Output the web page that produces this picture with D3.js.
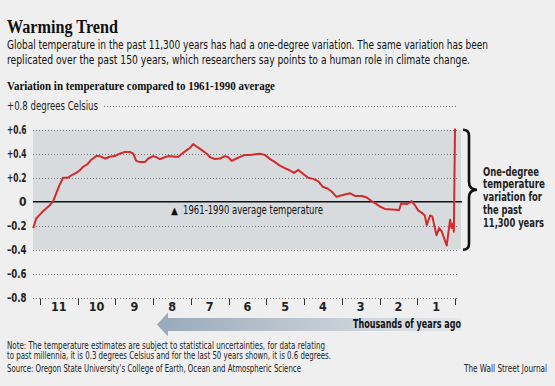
<!DOCTYPE html>
<html>
<head>
<meta charset="utf-8">
<script src="https://cdn.jsdelivr.net/npm/d3@7"></script>
<style>
  body { margin: 0; background: #efefef; }
  svg { display: block; }
</style>
</head>
<body>
<svg id="chart"></svg>
<script>
// thousands of years ago
const yearsAgo = [11.18, 11.10, 11.01, 10.92, 10.83, 10.74, 10.65, 10.57, 10.48, 10.39,
  10.26, 10.17, 10.04, 9.95, 9.86, 9.75, 9.64, 9.51, 9.42, 9.27,
  9.15, 9.02, 8.89, 8.75, 8.62, 8.53, 8.45, 8.35, 8.22, 8.13,
  8.00, 7.91, 7.82, 7.69, 7.60, 7.42, 7.33, 7.24, 7.11, 7.02,
  6.94, 6.85, 6.71, 6.58, 6.49, 6.36, 6.23, 6.10, 6.01, 5.92,
  5.79, 5.65, 5.57, 5.43, 5.30, 5.17, 5.04, 4.90, 4.77, 4.64,
  4.51, 4.37, 4.27, 4.15, 4.02, 3.89, 3.76, 3.62, 3.51, 3.38,
  3.27, 3.14, 3.05, 2.92, 2.78, 2.65, 2.47, 2.34, 2.21, 2.08,
  1.99, 1.86, 1.68, 1.48, 1.43, 1.28, 1.19, 1.15, 1.06, 0.97,
  0.87, 0.80, 0.75, 0.66, 0.60, 0.55, 0.49, 0.42, 0.35, 0.27,
  0.22, 0.18, 0.13, 0.09, 0.05, 0.03, 0.0];

// degrees Celsius vs. 1961-1990 average
const anomaly = [-0.22, -0.14, -0.11, -0.08, -0.055, -0.03, 0.005, 0.07, 0.14, 0.20,
  0.20, 0.22, 0.24, 0.26, 0.29, 0.31, 0.35, 0.38, 0.38, 0.36,
  0.375, 0.38, 0.40, 0.415, 0.415, 0.40, 0.34, 0.33, 0.33, 0.36,
  0.38, 0.37, 0.355, 0.37, 0.38, 0.375, 0.375, 0.40, 0.43, 0.45,
  0.48, 0.46, 0.43, 0.40, 0.37, 0.355, 0.36, 0.38, 0.37, 0.34,
  0.36, 0.38, 0.39, 0.39, 0.395, 0.40, 0.39, 0.355, 0.33, 0.30,
  0.28, 0.26, 0.24, 0.265, 0.23, 0.20, 0.19, 0.17, 0.125, 0.11,
  0.085, 0.04, 0.05, 0.06, 0.07, 0.048, 0.048, 0.035, 0.005, -0.02,
  -0.04, -0.06, -0.065, -0.07, -0.015, -0.02, -0.005, 0.005, -0.03, -0.075,
  -0.095, -0.115, -0.195, -0.115, -0.125, -0.195, -0.28, -0.22, -0.25, -0.32,
  -0.365, -0.27, -0.15, -0.22, -0.18, -0.25, 0.61];

const yTicks = [0.6, 0.4, 0.2, 0, -0.2, -0.4, -0.6, -0.8];
const yTickLabels = ["+0.6", "+0.4", "+0.2", "0", "\u20130.2", "\u20130.4", "\u20130.6", "\u20130.8"];
const xTicks = [11, 10, 9, 8, 7, 6, 5, 4, 3, 2, 1, 0];
const xLabelPos = [10.5, 9.5, 8.5, 7.5, 6.5, 5.5, 4.5, 3.5, 2.5, 1.5, 0.5];
const xLabels = ["11", "10", "9", "8", "7", "6", "5", "4", "3", "2", "1"];
const braceLines = ["One-degree", "temperature", "variation for", "the past", "11,300 years"];
const braceWidths = [56, 62, 59, 39, 61];

const sans = "'Liberation Sans Narrow', 'DejaVu Sans Condensed', 'Roboto', sans-serif";
const serif = "'Liberation Serif', 'DejaVu Serif', serif";

function getConfig() {
    let width = 555, height = 386;
    let plot = { left: 33, right: 461 };   // shaded area
    let container = d3.select("#chart").attr("width", width).attr("height", height);
    return { width, height, plot, container };
}

function getScales() {
    // 11 thousand years ago at the first tick, today at the last one
    let xScale = d3.scaleLinear().domain([11, 0]).range([40, 455]);
    let yScale = d3.scaleLinear().domain([-0.8, 0.8]).range([297.7, 105.7]);
    return { xScale, yScale };
}

// small helper for text, optional textLength to squeeze condensed fonts
function addText(g, x, y, str, opts) {
    let t = g.append("text")
        .attr("x", x).attr("y", y)
        .attr("font-family", opts.family || sans)
        .attr("font-size", opts.size || 11)
        .attr("font-weight", opts.weight || "normal")
        .attr("fill", opts.fill || "#111")
        .attr("text-anchor", opts.anchor || "start")
        .text(str);
    if (opts.len) t.attr("textLength", opts.len).attr("lengthAdjust", "spacingAndGlyphs");
    return t;
}

function drawHeader(config) {
    let g = config.container.append("g");
    addText(g, 7, 32.5, "Warming Trend", { family: serif, size: 18, weight: "bold", len: 111 });
    addText(g, 7, 48.5, "Global temperature in the past 11,300 years has had a one-degree variation. The same variation has been", { size: 12, len: 481 });
    addText(g, 7, 64, "replicated over the past 150 years, which researchers say points to a human role in climate change.", { size: 12, len: 463 });
    addText(g, 7, 90, "Variation in temperature compared to 1961-1990 average", { family: serif, size: 12.5, weight: "bold", len: 268 });
}

function drawGrid(scales, config) {
    let { xScale, yScale } = scales;
    let { container, plot } = config;

    container.append("rect")
        .attr("x", plot.left).attr("y", yScale(0.6))
        .attr("width", plot.right - plot.left)
        .attr("height", yScale(-0.4) - yScale(0.6))
        .attr("fill", "#d8dbde");

    // dotted gridlines
    container.append("g").selectAll("line")
        .data(yTicks.filter(d => d !== 0))
        .enter().append("line")
        .attr("x1", plot.left).attr("x2", 458)
        .attr("y1", d => Math.round(yScale(d)) + 0.5)
        .attr("y2", d => Math.round(yScale(d)) + 0.5)
        .attr("stroke", "#777").attr("stroke-width", 1)
        .attr("stroke-dasharray", "1,2");

    container.append("line")
        .attr("x1", 104).attr("x2", 458)
        .attr("y1", Math.round(yScale(0.8)) + 0.5).attr("y2", Math.round(yScale(0.8)) + 0.5)
        .attr("stroke", "#777").attr("stroke-dasharray", "1,2");

    let labels = container.append("g");
    yTicks.forEach((d, i) => {
        let s = yTickLabels[i];
        addText(labels, 26.5, yScale(d) + 4, s, { size: 12, weight: "bold", anchor: "end", fill: "#222", len: s.length > 1 ? 19.5 : null });
    });
    addText(labels, 7, yScale(0.8) + 4, "+0.8 degrees Celsius", { size: 12, len: 91, fill: "#222" });

    // x axis: short tick marks below the -0.8 line, labels between them
    container.append("g").selectAll("line")
        .data(xTicks)
        .enter().append("line")
        .attr("x1", d => Math.round(xScale(d)) + 0.5)
        .attr("x2", d => Math.round(xScale(d)) + 0.5)
        .attr("y1", 298.5).attr("y2", 305)
        .attr("stroke", "#333");

    let xl = container.append("g");
    xLabelPos.forEach((d, i) => {
        addText(xl, xScale(d), 311, xLabels[i], { size: 12.5, weight: "bold", anchor: "middle", fill: "#222" });
    });
}

function drawLine(scales, config) {
    let { xScale, yScale } = scales;
    let { container, plot } = config;
    let points = yearsAgo.map((t, i) => ({ t: t, v: anomaly[i] }));

    container.append("line")
        .attr("x1", plot.left).attr("x2", 462)
        .attr("y1", yScale(0)).attr("y2", yScale(0))
        .attr("stroke", "#111").attr("stroke-width", 1.6);

    let line = d3.line()
        .x(d => xScale(d.t))
        .y(d => yScale(d.v));

    container.append("path")
        .datum(points)
        .attr("d", line)
        .attr("fill", "none")
        .attr("stroke", "#d12b2b")
        .attr("stroke-width", 2)
        .attr("stroke-linejoin", "round");

    // baseline marker text
    let g = container.append("g");
    addText(g, 171, yScale(0) + 12, "\u25B2", { size: 10, fill: "#111" });
    addText(g, 183, yScale(0) + 12.5, "1961-1990 average temperature", { size: 12.5, len: 140, fill: "#111" });
}

function drawBrace(scales, config) {
    let { yScale } = scales;
    let top = yScale(0.6), bottom = yScale(-0.4), mid = (top + bottom) / 2;
    let x0 = 463, x1 = 469, tip = 477;
    let path = d3.path();
    path.moveTo(x0, top);
    path.quadraticCurveTo(x1, top, x1, top + 6);
    path.lineTo(x1, mid - 8);
    path.quadraticCurveTo(x1, mid, tip, mid);
    path.quadraticCurveTo(x1, mid, x1, mid + 8);
    path.lineTo(x1, bottom - 6);
    path.quadraticCurveTo(x1, bottom, x0, bottom);
    config.container.append("path")
        .attr("d", path.toString())
        .attr("fill", "none").attr("stroke", "#111").attr("stroke-width", 2.6);

    let g = config.container.append("g");
    braceLines.forEach((s, i) => {
        addText(g, 483, 175.5 + i * 12.9, s, { size: 12, weight: "bold", fill: "#222", len: braceWidths[i] });
    });
}

function drawArrow(config) {
    let defs = config.container.append("defs");
    let grad = defs.append("linearGradient").attr("id", "arrowGrad")
        .attr("x1", "0%").attr("x2", "100%");
    grad.append("stop").attr("offset", "0%").attr("stop-color", "#98a9ba");
    grad.append("stop").attr("offset", "55%").attr("stop-color", "#c3ccd4");
    grad.append("stop").attr("offset", "100%").attr("stop-color", "#e6e8ea");

    let tipX = 157, cy = 324.5, right = 461;
    let pts = [[tipX, cy], [168, 312.5], [168, 318], [right, 318], [right, 331], [168, 331], [168, 336.5]];
    config.container.append("polygon")
        .attr("points", pts.map(p => p.join(",")).join(" "))
        .attr("fill", "url(#arrowGrad)");

    addText(config.container, 461, 328, "Thousands of years ago", { size: 13, weight: "bold", anchor: "end", len: 108, fill: "#111" });
}

function drawFooter(config) {
    let g = config.container.append("g");
    addText(g, 7, 349, "Note: The temperature estimates are subject to statistical uncertainties, for data relating", { size: 10, len: 318, fill: "#222" });
    addText(g, 7, 358.5, "to past millennia, it is 0.3 degrees Celsius and for the last 50 years shown, it is 0.6 degrees.", { size: 10, len: 324, fill: "#222" });
    addText(g, 7, 372, "Source: Oregon State University\u2019s College of Earth, Ocean and Atmospheric Science", { size: 10.5, len: 294, fill: "#222" });
    addText(g, 547, 372, "The Wall Street Journal", { size: 10.5, anchor: "end", len: 83, fill: "#222" });
}

function drawChart() {
    let config = getConfig();
    let scales = getScales();
    config.container.append("rect").attr("width", config.width).attr("height", config.height).attr("fill", "#efefef");
    drawHeader(config);
    drawGrid(scales, config);
    drawLine(scales, config);
    drawBrace(scales, config);
    drawArrow(config);
    drawFooter(config);
}

drawChart();
</script>
</body>
</html>
